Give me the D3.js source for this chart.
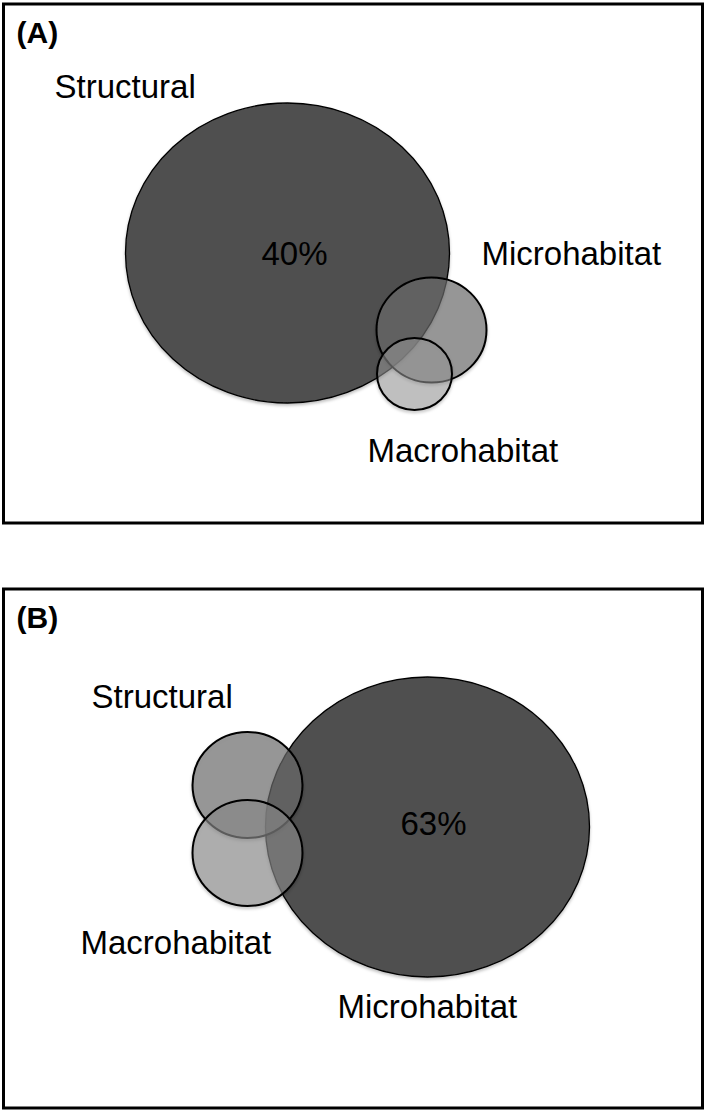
<!DOCTYPE html>
<html>
<head>
<meta charset="utf-8">
<script src="https://cdn.jsdelivr.net/npm/d3@7"></script>
<style>
  html, body { margin: 0; padding: 0; background: #fff; }
  svg { display: block; }
  text { font-family: "Liberation Sans", Arial, sans-serif; fill: #000; }
</style>
</head>
<body>
<svg id="chart" width="709" height="1111"></svg>
<script>
// ---- data ----
const panelLabels = ["(A)", "(B)"];
const setNames = ["Structural", "Microhabitat", "Macrohabitat"];
// percentage of variation explained by the dominant set in each panel
const dominantSet = ["Structural", "Microhabitat"];
const dominantPct = ["40%", "63%"];
// circle layout in panel units (x: 0-700, y: 0-520): centre and radii
const circlesA = [
  { set: "Structural",   cx: 284, cy: 249, rx: 162, ry: 150 },
  { set: "Microhabitat", cx: 428, cy: 326, rx: 55,  ry: 52.5 },
  { set: "Macrohabitat", cx: 411, cy: 370, rx: 37.5, ry: 36 }
];
const circlesB = [
  { set: "Microhabitat", cx: 424, cy: 238, rx: 162, ry: 150 },
  { set: "Structural",   cx: 244, cy: 196, rx: 55,  ry: 53 },
  { set: "Macrohabitat", cx: 244, cy: 264, rx: 55,  ry: 53 }
];
// label anchor positions in panel units
const labelsA = [
  { text: "Structural",   x: 51,  y: 94,  anchor: "start" },
  { text: "Microhabitat", x: 478, y: 261, anchor: "start" },
  { text: "Macrohabitat", x: 364, y: 458, anchor: "start" },
  { text: dominantPct[0], x: 291, y: 261, anchor: "middle" }
];
const labelsB = [
  { text: "Structural",   x: 88,  y: 119, anchor: "start" },
  { text: "Macrohabitat", x: 77,  y: 365, anchor: "start" },
  { text: "Microhabitat", x: 334, y: 429, anchor: "start" },
  { text: dominantPct[1], x: 430, y: 246, anchor: "middle" }
];

// ---- styles ----
const fillStyle = {
  big:          { fill: "#4f4f4f", opacity: 1,    stroke: 1.3 },
  Microhabitat: { fill: "#6e6e6e", opacity: 0.64, stroke: 2 },
  Structural:   { fill: "#6e6e6e", opacity: 0.64, stroke: 2 },
  MacroA:       { fill: "#9a9a9a", opacity: 0.52, stroke: 2 },
  MacroB:       { fill: "#8a8a8a", opacity: 0.62, stroke: 2 }
};

const svg = d3.select("#chart");
const defs = svg.append("defs");
const f = defs.append("filter").attr("id", "shadow")
  .attr("x", "-20%").attr("y", "-20%").attr("width", "140%").attr("height", "140%");
f.append("feDropShadow").attr("dx", 0).attr("dy", 2).attr("stdDeviation", 1.5)
  .attr("flood-color", "#000").attr("flood-opacity", 0.25);

const panelW = 700, panelH = 520;
const panels = [
  { label: panelLabels[0], circles: circlesA, labels: labelsA, top: 4,   macro: "MacroA" },
  { label: panelLabels[1], circles: circlesB, labels: labelsB, top: 589, macro: "MacroB" }
];

panels.forEach((p, i) => {
  const x = d3.scaleLinear().domain([0, panelW]).range([3.5, 3.5 + panelW]);
  const y = d3.scaleLinear().domain([0, panelH]).range([p.top, p.top + panelH]);
  const g = svg.append("g");

  g.append("rect")
    .attr("x", x(0)).attr("y", y(0))
    .attr("width", x(panelW - 1) - x(0)).attr("height", y(panelH - 1) - y(0))
    .attr("fill", "#fff").attr("stroke", "#000").attr("stroke-width", 3);

  g.selectAll("ellipse").data(p.circles).enter().append("ellipse")
    .attr("cx", d => x(d.cx)).attr("cy", d => y(d.cy))
    .attr("rx", d => x(d.rx) - x(0)).attr("ry", d => y(d.ry) - y(0))
    .each(function (d) {
      const key = d.set === dominantSet[i] ? "big"
        : (d.set === "Macrohabitat" ? p.macro : d.set);
      const s = fillStyle[key];
      d3.select(this)
        .attr("fill", s.fill).attr("fill-opacity", s.opacity)
        .attr("stroke", "#000").attr("stroke-width", s.stroke)
        .attr("filter", "url(#shadow)");
    });

  g.append("text")
    .attr("x", x(13)).attr("y", y(39))
    .attr("font-size", 30).attr("font-weight", "bold")
    .text(p.label);

  g.selectAll("text.lab").data(p.labels).enter().append("text")
    .attr("class", "lab")
    .attr("x", d => x(d.x)).attr("y", d => y(d.y))
    .attr("text-anchor", d => d.anchor)
    .attr("font-size", 33)
    .text(d => d.text);
});
</script>
</body>
</html>
